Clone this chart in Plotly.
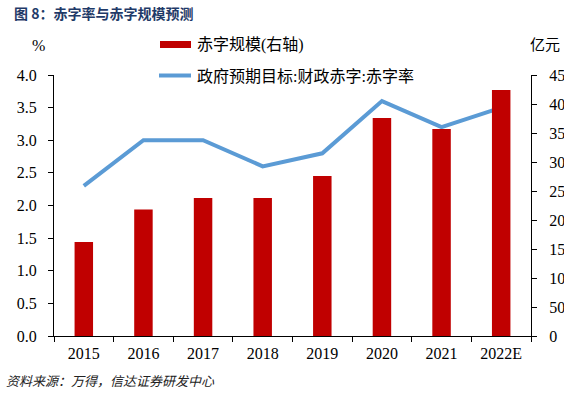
import plotly.graph_objects as go

years = ["2015", "2016", "2017", "2018", "2019", "2020", "2021", "2022E"]
deficit_scale = [162, 218, 238, 238, 276, 376, 357, 424]
deficit_rate = [2.3, 3.0, 3.0, 2.6, 2.8, 3.6, 3.2, 3.5]
left_ticks = [0.0, 0.5, 1.0, 1.5, 2.0, 2.5, 3.0, 3.5, 4.0]
right_ticks = [0, 50, 100, 150, 200, 250, 300, 350, 400, 450]

name_bar = "赤字规模(右轴)"
name_line = "政府预期目标:财政赤字:赤字率"

SERIF = "Liberation Serif, Noto Sans CJK SC"
RED = "#C00000"
BLUE = "#5B9BD5"

fig = go.Figure()
fig.add_trace(go.Bar(x=years, y=deficit_scale, name=name_bar, yaxis="y2",
                     marker=dict(color=RED, line=dict(width=0)), width=0.31,
                     showlegend=False))
fig.add_trace(go.Scatter(x=years, y=deficit_rate, name=name_line, yaxis="y",
                         mode="lines", line=dict(color=BLUE, width=4),
                         showlegend=False))

axis_common = dict(showline=True, linecolor="black", linewidth=1, showgrid=False,
                   zeroline=False, ticks="outside", ticklen=5, tickcolor="black",
                   automargin=False,
                   tickfont=dict(family=SERIF, size=16, color="black"))

fig.update_layout(
    width=564, height=398,
    margin=dict(l=54, r=33, t=75, b=62),
    paper_bgcolor="white", plot_bgcolor="white",
    xaxis=dict(**axis_common, type="category", tickson="boundaries",
               range=[-0.5, 7.5], ticklabelstandoff=3),
    yaxis=dict(**axis_common, range=[0, 4.0], tickvals=left_ticks,
               tickformat=".1f", ticklabelstandoff=8),
    yaxis2=dict(**axis_common, range=[0, 450], tickvals=right_ticks,
                overlaying="y", side="right", anchor="x", ticklabelstandoff=9),
    bargap=0.5,
)

# Manual legend
fig.add_shape(type="rect", xref="paper", yref="paper",
              x0=(160 - 54) / 477, x1=(191 - 54) / 477,
              y0=(336 - 48) / 261, y1=(336 - 41) / 261,
              fillcolor=RED, line=dict(width=0))
fig.add_shape(type="line", xref="paper", yref="paper",
              x0=(159 - 54) / 477, x1=(191 - 54) / 477,
              y0=(336 - 75.5) / 261, y1=(336 - 75.5) / 261,
              line=dict(color=BLUE, width=4))
fig.add_annotation(text=name_bar, xref="paper", yref="paper",
                   x=(195 - 54) / 477, y=(336 - 45) / 261, xanchor="left", yanchor="middle",
                   showarrow=False, font=dict(family=SERIF, size=16, color="black"))
fig.add_annotation(text=name_line, xref="paper", yref="paper",
                   x=(195 - 54) / 477, y=(336 - 76) / 261, xanchor="left", yanchor="middle",
                   showarrow=False, font=dict(family=SERIF, size=16, color="black"))

# Axis unit labels
fig.add_annotation(text="%", xref="paper", yref="paper",
                   x=(38 - 54) / 477, y=(336 - 46) / 261, xanchor="center", yanchor="middle",
                   showarrow=False, font=dict(family=SERIF, size=16, color="black"))
fig.add_annotation(text="亿元", xref="paper", yref="paper",
                   x=(545 - 54) / 477, y=(336 - 45) / 261, xanchor="center", yanchor="middle",
                   showarrow=False, font=dict(family=SERIF, size=15, color="black"))

# Title
fig.add_annotation(text="<b>图 8：赤字率与赤字规模预测</b>", xref="paper", yref="paper",
                   x=(12 - 54) / 477, y=(336 - 13) / 261, xanchor="left", yanchor="middle",
                   showarrow=False, font=dict(family="Noto Sans CJK SC", size=14, color="#1F3A68"))

# Source
fig.add_annotation(text="<i>资料来源：万得，信达证券研发中心</i>", xref="paper", yref="paper",
                   x=(4 - 54) / 477, y=(336 - 380) / 261, xanchor="left", yanchor="middle",
                   showarrow=False, font=dict(family="Noto Sans CJK SC", size=13, color="#222222"))

fig.write_html(
    "out.html",
    config={"displayModeBar": False},
    post_script="document.body.style.margin='0';"
                "document.documentElement.style.overflow='hidden';"
                "document.body.style.overflow='hidden';",
)
